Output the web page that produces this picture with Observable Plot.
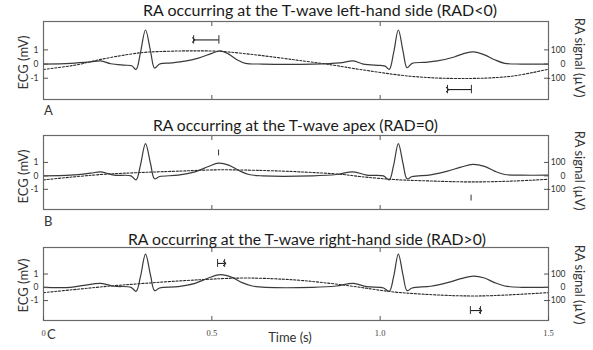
<!DOCTYPE html>
<html>
<head>
<meta charset="utf-8">
<script src="https://cdn.jsdelivr.net/npm/d3@7"></script>
<script src="https://cdn.jsdelivr.net/npm/@observablehq/plot@0.6"></script>
<style>
  html, body { margin: 0; padding: 0; background: #fff; }
  #wrap { position: relative; width: 593px; height: 350px; overflow: hidden; font-family: Lato, "Open Sans", sans-serif; color: #222; }
  .panel { position: absolute; left: 0; }
  .txt { position: absolute; white-space: nowrap; line-height: 1; }
  .title { font-size: 15.5px; color: #1a1a1a; transform-origin: 0 0; }
  .ylab { font-size: 13px; color: #333; }
</style>
</head>
<body>
<div id="wrap"></div>
<script>
// ---------- data (time in s, ECG in mV, RA in µV) ----------
const ecgTimeA = [0.00,0.08,0.14,0.17,0.20,0.24,0.262,0.275,0.288,0.303,0.318,0.330,0.345,0.38,0.42,0.46,0.50,0.525,0.55,0.575,0.60,0.65,0.80,0.88,0.92,0.95,1.00,1.015,1.027,1.040,1.054,1.068,1.080,1.095,1.13,1.17,1.22,1.25,1.277,1.31,1.34,1.37,1.42,1.50];
const ecgA = [0.00,0.05,0.15,0.22,0.02,-0.08,-0.12,-0.38,0.8,2.4,0.9,-0.28,0.0,0.08,0.2,0.42,0.75,0.93,0.7,0.3,0.05,0.0,0.0,0.08,0.22,0.0,-0.1,-0.15,-0.38,0.8,2.4,0.9,-0.26,0.05,0.12,0.22,0.5,0.75,0.86,0.65,0.3,0.05,0.0,0.0];
const raTimeA = [0.00,0.10,0.17,0.29,0.37,0.44,0.52,0.615,0.713,0.76,0.84,0.94,1.09,1.24,1.39,1.50];
const raA = [-38,-5,33,80,90,93,90,69,40,25,0,-38,-86,-102,-86,-36];

const ecgTimeB = [0.00,0.08,0.14,0.17,0.21,0.26,0.275,0.288,0.303,0.318,0.330,0.345,0.40,0.45,0.49,0.52,0.55,0.58,0.61,0.65,0.80,0.87,0.92,0.96,1.01,1.027,1.040,1.054,1.068,1.080,1.095,1.15,1.20,1.24,1.275,1.31,1.34,1.37,1.42,1.50];
const ecgB = [0.00,0.05,0.2,0.3,0.05,0.0,-0.3,0.8,2.4,0.9,-0.22,-0.05,0.05,0.3,0.7,0.95,0.8,0.4,0.1,0.0,0.0,0.1,0.3,0.05,0.0,-0.3,0.8,2.4,0.9,-0.22,-0.05,0.08,0.35,0.65,0.85,0.7,0.35,0.1,0.05,0.05];
const raTimeB = [0.00,0.17,0.29,0.40,0.52,0.65,0.76,0.89,0.94,1.04,1.15,1.27,1.40,1.50];
const raB = [-30,10,25,35,45,40,30,10,-5,-27,-38,-45,-38,-25];

const ecgTimeC = [0.00,0.08,0.12,0.17,0.21,0.26,0.275,0.288,0.303,0.318,0.330,0.345,0.40,0.45,0.49,0.526,0.56,0.59,0.62,0.66,0.80,0.87,0.92,0.96,1.01,1.027,1.040,1.054,1.068,1.080,1.095,1.15,1.20,1.24,1.277,1.31,1.34,1.37,1.42,1.50];
const ecgC = [0.00,0.0,0.15,0.3,0.08,0.0,-0.3,0.8,2.5,0.9,-0.25,-0.05,0.05,0.3,0.7,0.95,0.75,0.35,0.1,0.0,0.0,0.1,0.3,0.05,-0.05,-0.3,0.8,2.5,0.9,-0.25,-0.05,0.08,0.35,0.65,0.85,0.7,0.35,0.1,0.0,0.0];
const raTimeC = [0.00,0.10,0.20,0.30,0.45,0.60,0.75,0.85,0.94,1.04,1.19,1.27,1.34,1.50];
const raC = [-40,-15,10,30,55,70,55,30,0,-35,-60,-65,-62,-40];

// RA-to-T interval markers (start s, end s, level mV, arrow side)
const markTop = { A: [0.446, 0.521, 1.7, "start"], B: [0.52, 0.52, 1.7, "none"], C: [0.517, 0.538, 1.8, "end"] };
const markBottom = { A: [1.200, 1.271, -1.8, "start"], B: [1.27, 1.27, -1.65, "none"], C: [1.268, 1.298, -1.75, "end"] };

const titles = ["RA occurring at the T-wave left-hand side (RAD<0)", "RA occurring at the T-wave apex (RAD=0)", "RA occurring at the T-wave right-hand side (RAD>0)"];
const panelLetters = ["A", "B", "C"];
const leftTicks = [-1, 0, 1];
const rightTicks = [-100, 0, 100];
const timeTicks = [0, 0.5, 1.0, 1.5];
const innerTimeTicks = [0.5, 1.0];
const raPerMv = 100; // RA axis: 100 µV per ECG mV of height

// ---------- drawing ----------
const wrap = document.getElementById("wrap");
const W = 593, mL = 43, mR = 45;

function toRows(ts, vs) { return ts.map((t, i) => ({ t, v: vs[i] })); }

function makePanel(key, ecgT, ecgV, raT, raV, frameTop, frameH, withLabels) {
  const mT = 10, mB = withLabels ? 20 : 10;
  const ecgRows = toRows(ecgT, ecgV);
  const raRows = toRows(raT, raV).map(d => ({ t: d.t, v: d.v / raPerMv }));
  const marks = [];
  const tickStyle = { stroke: "#555", fontSize: 8.5, fill: "#333" };
  [markTop[key], markBottom[key]].forEach(m => {
    const [x1, x2, y, arrow] = m;
    if (arrow === "none") {
      marks.push(Plot.ruleX([x1], { x: d => d, y1: y - 0.22, y2: y + 0.22, stroke: "#333", strokeWidth: 1 }));
    } else {
      marks.push(Plot.link([m], {
        x1: d => d[0], x2: d => d[1], y1: d => d[2], y2: d => d[2],
        stroke: "#222", strokeWidth: 1.1,
        markerStart: arrow === "start" ? "arrow" : "none",
        markerEnd: arrow === "end" ? "arrow" : "none"
      }));
      marks.push(Plot.ruleX([x1, x2], { x: d => d, y1: y - 0.3, y2: y + 0.3, stroke: "#333", strokeWidth: 1 }));
    }
  });
  marks.push(
    Plot.line(raRows, { x: "t", y: "v", stroke: "#2a2a2a", strokeWidth: 1.1, strokeDasharray: "2.2,1.6", curve: "catmull-rom" }),
    Plot.line(ecgRows, { x: "t", y: "v", stroke: "#3a3a3a", strokeWidth: 1.2, curve: "catmull-rom" }),
    Plot.frame({ stroke: "#6a6a6a", strokeWidth: 1.2 }),
    Plot.axisY(leftTicks, { anchor: "left", tickSize: -5, tickPadding: 10, tickFormat: d => String(d), label: null, ...tickStyle }),
    Plot.axisY(rightTicks.map(d => d / raPerMv), { anchor: "right", tickSize: -5, tickPadding: 22, textAnchor: "end", tickFormat: d => String(Math.round(d * raPerMv)), label: null, ...tickStyle }),
    Plot.axisX(innerTimeTicks, { anchor: "top", tickSize: -4, tickFormat: () => "", label: null, stroke: "#555" })
  );
  if (withLabels) {
    marks.push(Plot.axisX(timeTicks, { anchor: "bottom", tickSize: -4, tickPadding: 13, tickFormat: d => d === 0 ? "0" : d.toFixed(1), label: null, stroke: "#555", fill: "#444", fontSize: 8.5, fontFamily: "Liberation Serif, serif" }));
  } else {
    marks.push(Plot.axisX(innerTimeTicks, { anchor: "bottom", tickSize: -4, tickFormat: () => "", label: null, stroke: "#555" }));
  }
  const svg = Plot.plot({
    width: W, height: frameH + mT + mB,
    marginLeft: mL, marginRight: mR, marginTop: mT, marginBottom: mB,
    x: { domain: [0, 1.5], label: null },
    y: { domain: [-2.5, 3], label: null },
    style: { background: "transparent", overflow: "visible", fontFamily: "Lato, sans-serif" },
    marks
  });
  svg.classList.add("panel");
  svg.style.top = (frameTop - mT) + "px";
  svg.style.position = "absolute";
  wrap.appendChild(svg);
}

makePanel("A", ecgTimeA, ecgA, raTimeA, raA, 21, 78, false);
makePanel("B", ecgTimeB, ecgB, raTimeB, raB, 135, 74, false);
makePanel("C", ecgTimeC, ecgC, raTimeC, raC, 247, 73, true);

function addText(str, cls, x, y, opts = {}) {
  const el = document.createElement("div");
  el.className = "txt " + cls;
  el.textContent = str;
  Object.assign(el.style, opts);
  wrap.appendChild(el);
  el.style.left = x + "px";
  el.style.top = y + "px";
  return el;
}

// titles: [center x, top y, target width]
const titlePos = [[320, 3, 354], [295, 118, 285], [307, 232, 358]];
titles.forEach((t, i) => {
  const el = addText(t, "title", 0, titlePos[i][1]);
  const w = el.getBoundingClientRect().width;
  const s = titlePos[i][2] / w;
  el.style.left = (titlePos[i][0] - titlePos[i][2] / 2) + "px";
  el.style.transform = `scaleX(${s})`;
});

// y-axis labels
const ylabCenters = [62, 176, 285];
const rlabCenters = [57, 170, 284];
ylabCenters.forEach(cy => {
  const el = addText("ECG (mV)", "ylab", 0, 0);
  const r = el.getBoundingClientRect();
  el.style.left = (23 - r.width / 2) + "px";
  el.style.top = (cy - r.height / 2) + "px";
  el.style.transform = "rotate(-90deg)";
});
rlabCenters.forEach(cy => {
  const el = addText("RA signal (µV)", "ylab", 0, 0);
  const r = el.getBoundingClientRect();
  el.style.left = (580 - r.width / 2) + "px";
  el.style.top = (cy - r.height / 2) + "px";
  el.style.transform = "rotate(90deg)";
});

// panel letters
const letterPos = [[44, 104], [44, 215], [47, 328]];
panelLetters.forEach((L, i) => addText(L, "ylab", letterPos[i][0], letterPos[i][1], { fontSize: "13px" }));

// x-axis title
const tx = addText("Time (s)", "ylab", 0, 331);
tx.style.left = (290 - tx.getBoundingClientRect().width / 2) + "px";
</script>
</body>
</html>
